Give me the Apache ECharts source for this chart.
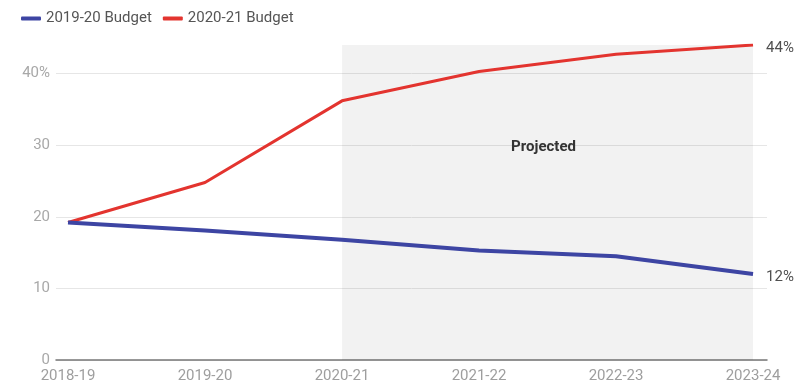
<!DOCTYPE html>
<html>
<head>
<meta charset="utf-8">
<script src="https://cdn.jsdelivr.net/npm/echarts@6/dist/echarts.min.js"></script>
<style>
  html, body { margin: 0; padding: 0; background: #fff; }
  #chart { width: 797px; height: 387px; }
</style>
</head>
<body>
<div id="chart"></div>
<script>
// Fiscal years on the horizontal axis
const years = ['2018-19', '2019-20', '2020-21', '2021-22', '2022-23', '2023-24'];
// Share (%) under each budget
const budget1920 = [19.2, 18.1, 16.8, 15.3, 14.5, 12];
const budget2021 = [19.2, 24.8, 36.2, 40.3, 42.7, 44];
// Value-axis ticks
const yTicks = [0, 10, 20, 30, 40];
// First projected year (index into years)
const projectedFrom = 2;

const toPoints = arr => arr.map((v, i) => [i, v]);
const font = 'Roboto, "Noto Sans", sans-serif';

const chart = echarts.init(document.getElementById('chart'));
chart.setOption({
  animation: false,
  textStyle: { fontFamily: font },
  legend: {
    left: 16, top: 6,
    icon: 'roundRect',
    itemWidth: 20, itemHeight: 4,
    itemGap: 11,
    textStyle: { fontSize: 15, color: '#555', fontFamily: font },
    data: ['2019-20 Budget', '2020-21 Budget']
  },
  grid: { left: 56, right: 30, top: 45, bottom: 27 },
  xAxis: {
    type: 'value',
    min: -0.0876, max: 5.102,
    splitLine: { show: false },
    axisTick: { show: false },
    axisLine: { show: true, onZero: false, lineStyle: { color: '#777', width: 1.5 } },
    axisLabel: {
      customValues: years.map((_, i) => i),
      formatter: v => years[Math.round(v)],
      fontSize: 15, color: '#9e9e9e', margin: 9, fontFamily: font
    }
  },
  yAxis: {
    type: 'value',
    min: 0, max: 44,
    axisLine: { show: false },
    axisTick: { show: false, customValues: yTicks },
    splitLine: { lineStyle: { color: '#e6e6e6', width: 1 } },
    axisLabel: {
      customValues: yTicks,
      formatter: v => (v === 40 ? v + '%' : '' + v),
      fontSize: 15, color: '#a8a8a8', margin: 6, fontFamily: font
    }
  },
  series: [
    {
      name: '2019-20 Budget',
      type: 'line',
      data: toPoints(budget1920),
      showSymbol: false,
      z: 4,
      lineStyle: { color: '#3d45a3', width: 4 },
      itemStyle: { color: '#3d45a3' },
      endLabel: {
        show: true, distance: 13, offset: [0, 3],
        formatter: p => p.value[1] + '%',
        fontSize: 15, color: '#505050', fontFamily: font
      }
    },
    {
      name: '2020-21 Budget',
      type: 'line',
      data: toPoints(budget2021),
      showSymbol: false,
      z: 3,
      lineStyle: { color: '#e3342f', width: 3 },
      itemStyle: { color: '#e3342f' },
      endLabel: {
        show: true, distance: 13, offset: [0, 3],
        formatter: p => p.value[1] + '%',
        fontSize: 15, color: '#505050', fontFamily: font
      },
      markArea: {
        silent: true,
        itemStyle: { color: 'rgba(0,0,0,0.05)' },
        label: {
          show: true, position: 'inside',
          offset: [-4, -55],
          fontSize: 15, fontWeight: 'bold', color: '#333', fontFamily: font
        },
        data: [[
          { name: 'Projected', xAxis: projectedFrom },
          { xAxis: years.length - 1 }
        ]]
      }
    }
  ]
});
</script>
</body>
</html>
